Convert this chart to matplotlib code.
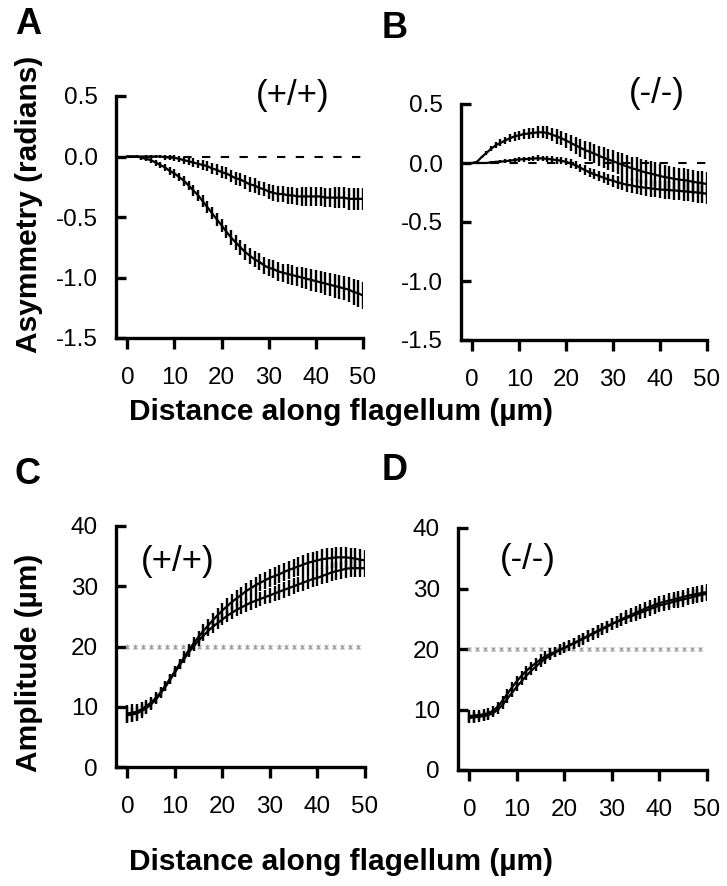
import matplotlib
matplotlib.use("Agg")
import matplotlib.pyplot as plt
import numpy as np

plt.rcParams["font.family"] = ["Liberation Sans", "DejaVu Sans"]

# distance along flagellum (um), one point per micron
dist = list(range(0, 51))

# panel A, (+/+) asymmetry (radians)
A_up = [0.00, 0.00, 0.00, 0.00, 0.00, 0.00, 0.00, 0.00, -0.005, -0.01,
        -0.01, -0.02, -0.03, -0.04, -0.05, -0.06, -0.07, -0.08, -0.10, -0.11,
        -0.13, -0.14, -0.16, -0.18, -0.19, -0.21, -0.23, -0.24, -0.26, -0.27,
        -0.29, -0.30, -0.31, -0.31, -0.32, -0.32, -0.33, -0.33, -0.33, -0.33,
        -0.33, -0.33, -0.34, -0.34, -0.34, -0.34, -0.34, -0.35, -0.35, -0.35,
        -0.35]
A_up_err = [0.0, 0.0, 0.005, 0.005, 0.01, 0.01, 0.015, 0.015, 0.02, 0.02,
            0.025, 0.025, 0.03, 0.03, 0.035, 0.035, 0.04, 0.04, 0.045, 0.045,
            0.05, 0.05, 0.05, 0.055, 0.055, 0.055, 0.06, 0.06, 0.06, 0.06,
            0.065, 0.065, 0.065, 0.07, 0.07, 0.07, 0.07, 0.075, 0.075, 0.075,
            0.08, 0.08, 0.08, 0.08, 0.085, 0.085, 0.085, 0.09, 0.09, 0.09,
            0.09]
A_lo = [0.00, 0.00, 0.00, -0.01, -0.02, -0.03, -0.05, -0.07, -0.09, -0.12,
        -0.14, -0.17, -0.20, -0.24, -0.28, -0.32, -0.37, -0.42, -0.47, -0.52,
        -0.57, -0.62, -0.67, -0.71, -0.75, -0.79, -0.82, -0.85, -0.87, -0.90,
        -0.92, -0.93, -0.95, -0.96, -0.97, -0.98, -0.99, -1.00, -1.01, -1.02,
        -1.03, -1.04, -1.05, -1.06, -1.07, -1.08, -1.09, -1.10, -1.12, -1.13,
        -1.15]
A_lo_err = [0.0, 0.005, 0.01, 0.015, 0.02, 0.02, 0.025, 0.025, 0.03, 0.03,
            0.035, 0.035, 0.04, 0.04, 0.045, 0.045, 0.05, 0.05, 0.05, 0.055,
            0.055, 0.055, 0.06, 0.06, 0.06, 0.065, 0.065, 0.065, 0.07, 0.07,
            0.07, 0.075, 0.075, 0.075, 0.08, 0.08, 0.08, 0.085, 0.085, 0.09,
            0.09, 0.09, 0.095, 0.095, 0.1, 0.1, 0.1, 0.105, 0.105, 0.11,
            0.11]

# panel B, (-/-) asymmetry (radians)
B_up = [0.00, 0.01, 0.05, 0.085, 0.12, 0.15, 0.17, 0.19, 0.21, 0.225,
        0.235, 0.245, 0.25, 0.255, 0.26, 0.26, 0.255, 0.24, 0.225, 0.21,
        0.19, 0.17, 0.15, 0.13, 0.11, 0.095, 0.08, 0.06, 0.045, 0.03,
        0.015, 0.0, -0.015, -0.03, -0.045, -0.055, -0.07, -0.08, -0.09, -0.10,
        -0.11, -0.12, -0.125, -0.135, -0.14, -0.145, -0.15, -0.16, -0.165, -0.17,
        -0.18]
B_up_err = [0.0, 0.005, 0.01, 0.015, 0.02, 0.025, 0.03, 0.03, 0.035, 0.035,
            0.04, 0.04, 0.045, 0.045, 0.05, 0.05, 0.055, 0.055, 0.06, 0.06,
            0.065, 0.065, 0.07, 0.075, 0.075, 0.08, 0.08, 0.085, 0.09, 0.09,
            0.095, 0.095, 0.1, 0.1, 0.1, 0.105, 0.105, 0.105, 0.105, 0.105,
            0.105, 0.105, 0.1, 0.1, 0.1, 0.1, 0.1, 0.1, 0.1, 0.1,
            0.1]
B_lo = [0.00, 0.00, 0.00, 0.00, 0.005, 0.01, 0.012, 0.015, 0.02, 0.025,
        0.03, 0.032, 0.035, 0.038, 0.04, 0.038, 0.035, 0.03, 0.025, 0.018,
        0.01, -0.005, -0.02, -0.04, -0.06, -0.08, -0.095, -0.11, -0.125, -0.14,
        -0.15, -0.165, -0.175, -0.185, -0.19, -0.20, -0.205, -0.21, -0.215, -0.22,
        -0.225, -0.227, -0.23, -0.233, -0.236, -0.24, -0.243, -0.247, -0.25, -0.255,
        -0.26]
B_lo_err = [0.0, 0.005, 0.005, 0.01, 0.01, 0.01, 0.015, 0.015, 0.015, 0.02,
            0.02, 0.02, 0.02, 0.025, 0.025, 0.025, 0.025, 0.03, 0.03, 0.03,
            0.03, 0.035, 0.035, 0.035, 0.04, 0.04, 0.04, 0.045, 0.045, 0.05,
            0.05, 0.055, 0.055, 0.06, 0.06, 0.065, 0.065, 0.07, 0.07, 0.07,
            0.075, 0.075, 0.075, 0.08, 0.08, 0.08, 0.08, 0.085, 0.085, 0.085,
            0.085]

# panel C, (+/+) amplitude (um)
C_up = [8.9, 9.0, 9.2, 9.6, 10.1, 10.7, 11.5, 12.4, 13.5, 14.7,
        15.9, 17.1, 18.3, 19.5, 20.6, 21.6, 22.6, 23.5, 24.4, 25.2,
        26.0, 26.7, 27.4, 28.0, 28.6, 29.2, 29.7, 30.2, 30.6, 31.0,
        31.4, 31.7, 32.0, 32.4, 32.7, 33.0, 33.3, 33.6, 33.9, 34.1,
        34.3, 34.5, 34.6, 34.7, 34.8, 34.8, 34.8, 34.7, 34.6, 34.4,
        34.3]
C_up_err = [1.4, 1.4, 1.3, 1.2, 1.1, 1.0, 0.9, 0.8, 0.8, 0.8,
            0.8, 0.8, 0.9, 0.9, 1.0, 1.0, 1.1, 1.1, 1.2, 1.2,
            1.2, 1.3, 1.3, 1.3, 1.3, 1.4, 1.4, 1.4, 1.4, 1.4,
            1.5, 1.5, 1.5, 1.5, 1.5, 1.5, 1.6, 1.6, 1.6, 1.6,
            1.6, 1.7, 1.7, 1.7, 1.7, 1.7, 1.7, 1.7, 1.7, 1.7,
            1.7]
C_lo = [8.6, 8.7, 8.9, 9.3, 9.8, 10.4, 11.2, 12.2, 13.3, 14.5,
        15.7, 16.9, 18.0, 19.1, 20.1, 21.0, 21.8, 22.6, 23.3, 23.9,
        24.5, 25.1, 25.6, 26.1, 26.5, 26.9, 27.3, 27.6, 27.9, 28.2,
        28.5, 28.8, 29.1, 29.4, 29.7, 30.0, 30.3, 30.6, 30.9, 31.2,
        31.4, 31.7, 32.0, 32.3, 32.5, 32.7, 32.9, 33.0, 33.0, 33.0,
        33.0]
C_lo_err = [1.3, 1.3, 1.2, 1.1, 1.0, 0.9, 0.8, 0.8, 0.7, 0.7,
            0.7, 0.7, 0.8, 0.8, 0.8, 0.9, 0.9, 0.9, 1.0, 1.0,
            1.0, 1.0, 1.1, 1.1, 1.1, 1.1, 1.2, 1.2, 1.2, 1.2,
            1.2, 1.3, 1.3, 1.3, 1.3, 1.3, 1.3, 1.4, 1.4, 1.4,
            1.4, 1.4, 1.4, 1.5, 1.5, 1.5, 1.5, 1.5, 1.5, 1.5,
            1.5]

# panel D, (-/-) amplitude (um)
D_up = [8.9, 9.0, 9.1, 9.2, 9.4, 9.8, 10.5, 11.5, 12.6, 13.7,
        14.7, 15.6, 16.4, 17.1, 17.7, 18.3, 18.8, 19.2, 19.5, 19.9,
        20.2, 20.6, 20.9, 21.3, 21.7, 22.1, 22.5, 22.9, 23.3, 23.7,
        24.1, 24.5, 24.9, 25.3, 25.6, 26.0, 26.3, 26.7, 27.0, 27.3,
        27.6, 27.8, 28.0, 28.2, 28.4, 28.6, 28.8, 29.0, 29.1, 29.3,
        29.4]
D_up_err = [1.0, 1.0, 0.9, 0.9, 0.9, 0.8, 0.8, 0.8, 0.8, 0.8,
            0.8, 0.8, 0.8, 0.8, 0.8, 0.8, 0.8, 0.9, 0.9, 0.9,
            0.9, 0.9, 0.9, 0.9, 1.0, 1.0, 1.0, 1.0, 1.0, 1.0,
            1.0, 1.0, 1.1, 1.1, 1.1, 1.1, 1.1, 1.1, 1.1, 1.2,
            1.2, 1.2, 1.2, 1.2, 1.2, 1.2, 1.3, 1.3, 1.3, 1.3,
            1.3]
D_lo = [8.6, 8.7, 8.8, 8.9, 9.1, 9.4, 10.0, 10.8, 11.8, 12.8,
        13.8, 14.7, 15.6, 16.4, 17.1, 17.8, 18.4, 18.9, 19.4, 19.8,
        20.2, 20.6, 21.0, 21.4, 21.8, 22.2, 22.6, 23.0, 23.4, 23.8,
        24.2, 24.5, 24.8, 25.1, 25.4, 25.7, 26.0, 26.3, 26.6, 26.9,
        27.2, 27.4, 27.6, 27.8, 28.0, 28.2, 28.4, 28.6, 28.8, 29.0,
        29.1]
D_lo_err = [0.9, 0.9, 0.8, 0.8, 0.8, 0.7, 0.7, 0.7, 0.7, 0.7,
            0.7, 0.7, 0.7, 0.7, 0.7, 0.7, 0.8, 0.8, 0.8, 0.8,
            0.8, 0.8, 0.8, 0.9, 0.9, 0.9, 0.9, 0.9, 0.9, 0.9,
            1.0, 1.0, 1.0, 1.0, 1.0, 1.0, 1.0, 1.1, 1.1, 1.1,
            1.1, 1.1, 1.1, 1.1, 1.2, 1.2, 1.2, 1.2, 1.2, 1.2,
            1.2]

# grey reference series at 20 um (panels C, D)
ref_x = [0, 1.7, 3.3, 5.0, 6.7, 8.4, 10.0, 11.7, 13.4, 15.0,
         16.7, 18.4, 20.1, 21.7, 23.4, 25.1, 26.8, 28.4, 30.1, 31.8,
         33.4, 35.1, 36.8, 38.5, 40.1, 41.8, 43.5, 45.1, 46.8, 48.5]
ref_y = [20.0] * len(ref_x)

x_ticks = [0, 10, 20, 30, 40, 50]
asym_ticks = [0.5, 0.0, -0.5, -1.0, -1.5]
amp_ticks = [0, 10, 20, 30, 40]

W, H = 727, 886
fig = plt.figure(figsize=(W / 100, H / 100), dpi=100)


def px_axes(left, top, right, bottom):
    return fig.add_axes([left / W, 1 - bottom / H, (right - left) / W, (bottom - top) / H])


def style(ax, yticks, ylim, yfmt):
    ax.set_xlim(-2.4, 50)
    ax.set_ylim(*ylim)
    for s in ("top", "right"):
        ax.spines[s].set_visible(False)
    for s in ("left", "bottom"):
        ax.spines[s].set_linewidth(2.4)
    ax.set_xticks(x_ticks)
    ax.set_yticks(yticks)
    ax.set_yticklabels([yfmt.format(v) for v in yticks])
    ax.tick_params(axis="x", direction="out", length=8, width=2.4, pad=13, labelsize=17.5)
    ax.tick_params(axis="y", direction="in", length=7, width=2.4, pad=13, labelsize=17.5)


def curve(ax, y, err):
    ax.errorbar(dist, y, yerr=err, fmt="-", color="k", lw=1.6,
                elinewidth=1.7, capsize=0, zorder=3)


axA = px_axes(116, 96, 363, 338)
axB = px_axes(461, 104, 707, 340)
axC = px_axes(116, 526, 365, 767)
axD = px_axes(458, 528, 707, 770)

for ax in (axA, axB):
    ax.plot([0, 50], [0, 0], color="k", lw=1.5, dashes=(4, 5), zorder=2)
    style(ax, asym_ticks, (-1.5, 0.5), "{:.1f}")
curve(axA, A_up, A_up_err)
curve(axA, A_lo, A_lo_err)
curve(axB, B_up, B_up_err)
curve(axB, B_lo, B_lo_err)

for ax in (axC, axD):
    ax.errorbar(ref_x, ref_y, yerr=0.35, fmt="x", color="#9a9a9a", ms=3,
                mew=0.8, elinewidth=0.6, capsize=0, zorder=2)
    style(ax, amp_ticks, (0, 40), "{:d}")
curve(axC, C_up, C_up_err)
curve(axC, C_lo, C_lo_err)
curve(axD, D_up, D_up_err)
curve(axD, D_lo, D_lo_err)

# panel letters and genotype labels
for lbl, xp, yp in [("A", 28, 24), ("B", 395, 28), ("C", 28, 475), ("D", 395, 471)]:
    fig.text(xp / W, 1 - yp / H, lbl, fontsize=26, fontweight="heavy",
             ha="center", va="center")
for lbl, xp, yp in [("(+/+)", 293, 95), ("(-/-)", 657, 94),
                    ("(+/+)", 178, 561), ("(-/-)", 528, 560)]:
    fig.text(xp / W, 1 - yp / H, lbl, fontsize=25, ha="center", va="center")

fig.text(29 / W, 1 - 204 / H, "Asymmetry (radians)", rotation=90, fontsize=21.5,
         fontweight="bold", ha="center", va="center")
fig.text(29 / W, 1 - 663 / H, "Amplitude (\u00b5m)", rotation=90, fontsize=21.5,
         fontweight="bold", ha="center", va="center")
fig.text(341 / W, 1 - 412 / H, "Distance along flagellum (\u00b5m)", fontsize=21.5,
         fontweight="bold", ha="center", va="center")
fig.text(341 / W, 1 - 862 / H, "Distance along flagellum (\u00b5m)", fontsize=21.5,
         fontweight="bold", ha="center", va="center")

fig.savefig("out.png", dpi=100)
